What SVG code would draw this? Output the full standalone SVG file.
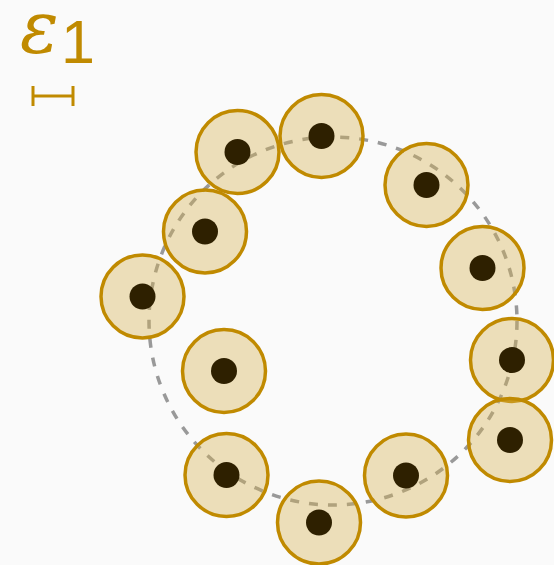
<svg xmlns="http://www.w3.org/2000/svg" width="554" height="565" viewBox="0 0 554 565">
<style>
.cell{fill:rgb(213,176,79);fill-opacity:0.38;stroke:#c08a00;stroke-width:3.5;}
.nuc{fill:#2e2000;}
.lbl{fill:#c08a00;}
</style>
<rect width="554" height="565" fill="#fafafa"/>
<g id="label">
<text class="lbl" x="20" y="53" font-size="72" font-family="'DejaVu Serif',serif" font-style="italic">ε</text>
<text class="lbl" x="61" y="63" font-size="61" font-family="'Liberation Sans',Arial,sans-serif">1</text>
<path d="M33,86V106M33,96H73M73,86V106" fill="none" stroke="#c08a00" stroke-width="3"/>
</g>
<g id="connectors">
<circle cx="333" cy="321" r="184" fill="none" stroke="#999" stroke-width="3.5" stroke-dasharray="9 10"/>
</g>
<g id="n1"><circle class="cell" cx="237.5" cy="152" r="41.5"/><circle class="nuc" cx="237.5" cy="152" r="13"/></g>
<g id="n2"><circle class="cell" cx="321.5" cy="136" r="41.5"/><circle class="nuc" cx="321.5" cy="136" r="13"/></g>
<g id="n3"><circle class="cell" cx="426.5" cy="185" r="41.5"/><circle class="nuc" cx="426.5" cy="185" r="13"/></g>
<g id="n4"><circle class="cell" cx="482.5" cy="268" r="41.5"/><circle class="nuc" cx="482.5" cy="268" r="13"/></g>
<g id="n5"><circle class="cell" cx="512" cy="360" r="41.5"/><circle class="nuc" cx="512" cy="360" r="13"/></g>
<g id="n6"><circle class="cell" cx="510" cy="440" r="41.5"/><circle class="nuc" cx="510" cy="440" r="13"/></g>
<g id="n7"><circle class="cell" cx="406" cy="475.5" r="41.5"/><circle class="nuc" cx="406" cy="475.5" r="13"/></g>
<g id="n8"><circle class="cell" cx="319" cy="522.5" r="41.5"/><circle class="nuc" cx="319" cy="522.5" r="13"/></g>
<g id="n9"><circle class="cell" cx="226.5" cy="475" r="41.5"/><circle class="nuc" cx="226.5" cy="475" r="13"/></g>
<g id="n10"><circle class="cell" cx="224" cy="371" r="41.5"/><circle class="nuc" cx="224" cy="371" r="13"/></g>
<g id="n11"><circle class="cell" cx="142.5" cy="296.5" r="41.5"/><circle class="nuc" cx="142.5" cy="296.5" r="13"/></g>
<g id="n12"><circle class="cell" cx="205" cy="231.5" r="41.5"/><circle class="nuc" cx="205" cy="231.5" r="13"/></g>
</svg>
